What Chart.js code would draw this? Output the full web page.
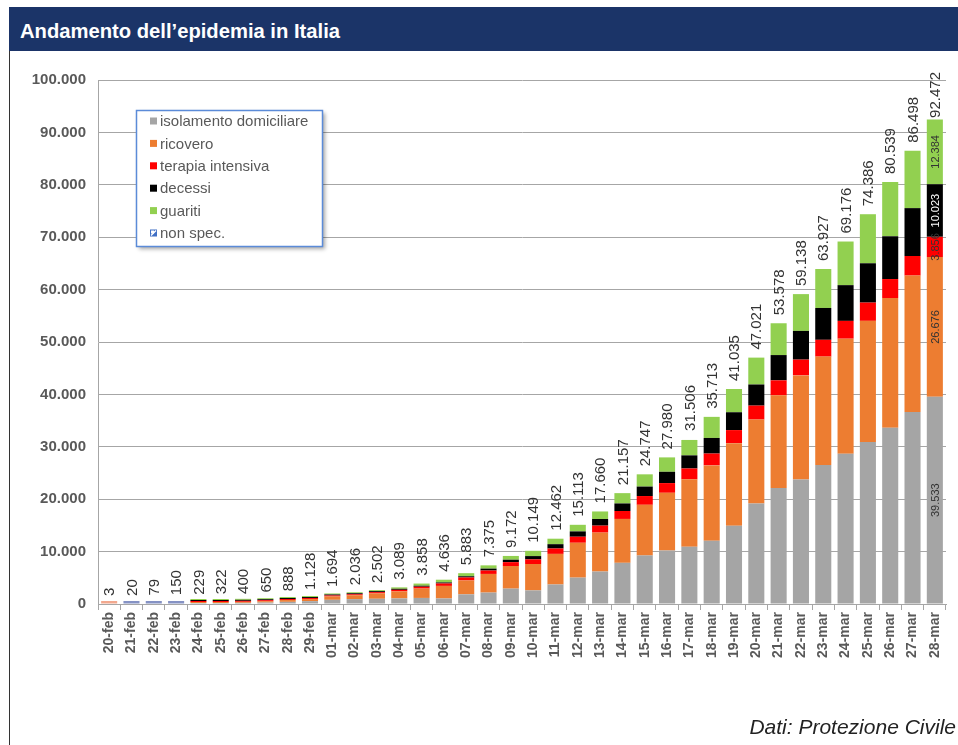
<!DOCTYPE html>
<html lang="it">
<head>
<meta charset="utf-8">
<title>Andamento dell'epidemia in Italia</title>
<script src="https://cdn.jsdelivr.net/npm/chart.js@4.4.1/dist/chart.umd.min.js"></script>
<style>
    html, body { margin: 0; padding: 0; background: #fff; }
    body { width: 958px; height: 745px; position: relative; overflow: hidden; font-family: "Liberation Sans", Arial, sans-serif; }
    #frame { position: absolute; left: 9px; top: 7px; width: 1px; height: 738px; background: #333; }
    #header { position: absolute; left: 9px; top: 7px; width: 949px; height: 44px; background: #1b3468; }
    #title { position: absolute; left: 20px; top: 19px; color: #fff; font: bold 21px "Liberation Sans", Arial, sans-serif; white-space: nowrap; transform-origin: 0 0; line-height: 24px; }
    #source { position: absolute; right: 2px; top: 715px; color: #222; font: italic 21px "Liberation Sans", Arial, sans-serif; white-space: nowrap; }
    #chart { position: absolute; left: 0; top: 0; }
</style>
</head>
<body>
<div id="frame"></div>
<div id="header"></div>
<div id="title">Andamento dell’epidemia in Italia</div>
<canvas id="chart" width="958" height="745"></canvas>
<div id="source">Dati: Protezione Civile</div>

<script>
// date labels
const dates = ['20-feb', '21-feb', '22-feb', '23-feb', '24-feb', '25-feb', '26-feb', '27-feb', '28-feb', '29-feb',
    '01-mar', '02-mar', '03-mar', '04-mar', '05-mar', '06-mar', '07-mar', '08-mar', '09-mar', '10-mar',
    '11-mar', '12-mar', '13-mar', '14-mar', '15-mar', '16-mar', '17-mar', '18-mar', '19-mar', '20-mar',
    '21-mar', '22-mar', '23-mar', '24-mar', '25-mar', '26-mar', '27-mar', '28-mar'];

// series (first four days have no breakdown)
const isolamento = [null, null, null, null, 94, 162, 221, 284, 412, 543,
    798, 927, 1000, 1065, 1155, 1060, 1843, 2180, 2936, 2599,
    3724, 5036, 6201, 7860, 9268, 10197, 10908, 12090, 14935, 19185,
    22116, 23783, 26522, 28697, 30920, 33648, 36653, 39533];
const ricovero = [null, null, null, null, 101, 114, 128, 248, 345, 401,
    639, 742, 1034, 1346, 1790, 2394, 2651, 3557, 4316, 5038,
    5838, 6650, 7426, 8372, 9663, 11025, 12894, 14363, 15757, 16020,
    17708, 19846, 20692, 21937, 23112, 24753, 26029, 26676];
const terapia = [null, null, null, null, 26, 35, 36, 56, 64, 105,
    140, 166, 229, 295, 351, 462, 567, 650, 733, 877,
    1028, 1153, 1328, 1518, 1672, 1851, 2060, 2257, 2498, 2655,
    2857, 3009, 3204, 3396, 3489, 3612, 3732, 3856];
const decessi = [null, null, null, null, 7, 10, 12, 17, 21, 29,
    34, 52, 79, 107, 148, 197, 233, 366, 463, 631,
    827, 1016, 1266, 1441, 1809, 2158, 2503, 2978, 3405, 4032,
    4825, 5476, 6077, 6820, 7503, 8165, 9134, 10023];
const guariti = [null, null, null, null, 1, 1, 3, 45, 46, 50,
    83, 149, 160, 276, 414, 523, 589, 622, 724, 1004,
    1045, 1258, 1439, 1966, 2335, 2749, 2941, 4025, 4440, 5129,
    6072, 7024, 7432, 8326, 9362, 10361, 10950, 12384];
const nonSpec = [3, 20, 79, 150, null, null, null, null, null, null,
    null, null, null, null, null, null, null, null, null, null,
    null, null, null, null, null, null, null, null, null, null,
    null, null, null, null, null, null, null, null];

// totals printed above each bar
const totals = [3, 20, 79, 150, 229, 322, 400, 650, 888, 1128,
    1694, 2036, 2502, 3089, 3858, 4636, 5883, 7375, 9172, 10149,
    12462, 15113, 17660, 21157, 24747, 27980, 31506, 35713, 41035, 47021,
    53578, 59138, 63927, 69176, 74386, 80539, 86498, 92472];

// y ticks
const yMin = 0, yMax = 100000, yStep = 10000;

const fmt = (n) => String(n).replace(/\B(?=(\d{3})+(?!\d))/g, '.');
const FONT = '"Liberation Sans", Arial, sans-serif';

// squeeze title like a condensed face
(function () {
    const t = document.getElementById('title');
    const w = t.getBoundingClientRect().width;
    t.style.transform = 'scaleX(' + (320 / w) + ')';
})();

const totalLabels = {
    id: 'totalLabels',
    afterDatasetsDraw(chart) {
        const ctx = chart.ctx;
        const x = chart.scales.x, y = chart.scales.y;
        ctx.save();
        ctx.font = '15px ' + FONT;
        ctx.fillStyle = '#333333';
        ctx.textAlign = 'left';
        ctx.textBaseline = 'middle';
        totals.forEach((v, i) => {
            const txt = fmt(v);
            const w = ctx.measureText(txt).width;
            let start = y.getPixelForValue(v) - 8;
            if (start - w < 72) start = 72 + w;
            ctx.save();
            ctx.translate(x.getPixelForValue(i) + 1, start);
            ctx.rotate(-Math.PI / 2);
            ctx.fillText(txt, 0, 0);
            ctx.restore();
        });

        // values inside the last bar
        const last = totals.length - 1;
        ctx.font = '11px ' + FONT;
        ctx.textAlign = 'center';
        chart.data.datasets.forEach((ds, di) => {
            const v = ds.data[last];
            if (v == null) return;
            const bar = chart.getDatasetMeta(di).data[last];
            ctx.save();
            ctx.fillStyle = ds.backgroundColor === '#000000' ? '#ffffff' : '#333333';
            ctx.translate(bar.x + 1, (bar.y + bar.base) / 2);
            ctx.rotate(-Math.PI / 2);
            ctx.fillText(fmt(v), 0, 0);
            ctx.restore();
        });
        ctx.restore();
    }
};

const boxLegend = {
    id: 'boxLegend',
    afterDraw(chart) {
        const ctx = chart.ctx;
        const bx = 136.5, by = 110.5, bw = 186, bh = 136;
        ctx.save();
        ctx.shadowColor = 'rgba(0,0,0,0.35)';
        ctx.shadowBlur = 4;
        ctx.shadowOffsetX = 2;
        ctx.shadowOffsetY = 2;
        ctx.fillStyle = '#ffffff';
        ctx.fillRect(bx, by, bw, bh);
        ctx.shadowColor = 'transparent';
        ctx.strokeStyle = '#5b8bd8';
        ctx.lineWidth = 1.5;
        ctx.strokeRect(bx, by, bw, bh);

        ctx.font = '15px ' + FONT;
        ctx.textBaseline = 'middle';
        ctx.textAlign = 'left';
        chart.data.datasets.forEach((ds, i) => {
            const cy = 121 + i * 22.4;
            if (ds.legendIcon === 'pattern') {
                ctx.fillStyle = '#3f6fc4';
                ctx.fillRect(150, cy - 3.5, 7, 7);
                ctx.strokeStyle = '#ffffff';
                ctx.lineWidth = 1.5;
                ctx.beginPath();
                ctx.moveTo(151, cy + 2.5);
                ctx.lineTo(156, cy - 2.5);
                ctx.stroke();
                ctx.fillStyle = '#ffffff';
                ctx.fillRect(151, cy - 2.5, 3, 3);
            } else {
                ctx.fillStyle = ds.backgroundColor;
                ctx.fillRect(150, cy - 3.5, 7, 7);
            }
            ctx.fillStyle = '#595959';
            ctx.fillText(ds.label, 160, cy + 1);
        });
        ctx.restore();
    }
};

const bar = (label, data, color) => ({
    label: label,
    data: data,
    backgroundColor: color,
    borderWidth: 0,
    minBarLength: 1,
    barPercentage: 0.72,
    categoryPercentage: 1
});

const nonSpecSet = bar('non spec.', nonSpec, ['#f2a88e', '#8592c4', '#8592c4', '#8592c4']);
nonSpecSet.legendIcon = 'pattern';
nonSpecSet.minBarLength = 3;

new Chart(document.getElementById('chart'), {
    type: 'bar',
    data: {
        labels: dates,
        datasets: [
            bar('isolamento domiciliare', isolamento, '#a5a5a5'),
            bar('ricovero', ricovero, '#ed7d31'),
            bar('terapia intensiva', terapia, '#ff0000'),
            bar('decessi', decessi, '#000000'),
            bar('guariti', guariti, '#92d050'),
            nonSpecSet
        ]
    },
    options: {
        responsive: false,
        animation: false,
        layout: { padding: { left: 12, top: 80, right: 12, bottom: 0 } },
        plugins: {
            legend: { display: false },
            tooltip: { enabled: false }
        },
        scales: {
            x: {
                stacked: true,
                afterFit: (s) => { s.height = 141; },
                border: { color: '#a6a6a6' },
                grid: { offset: true, drawOnChartArea: false, tickLength: 6, color: '#a6a6a6' },
                ticks: {
                    autoSkip: false,
                    minRotation: 90,
                    maxRotation: 90,
                    padding: 2,
                    color: '#595959',
                    font: { family: FONT, size: 14, weight: 'bold' }
                }
            },
            y: {
                stacked: true,
                min: yMin,
                max: yMax,
                afterFit: (s) => { s.width = 86; },
                border: { color: '#a6a6a6' },
                grid: { color: '#a6a6a6', drawTicks: false },
                ticks: {
                    stepSize: yStep,
                    padding: 12,
                    color: '#595959',
                    font: { family: FONT, size: 15, weight: 'bold' },
                    callback: (v) => fmt(v)
                }
            }
        }
    },
    plugins: [totalLabels, boxLegend]
});
</script>
</body>
</html>
